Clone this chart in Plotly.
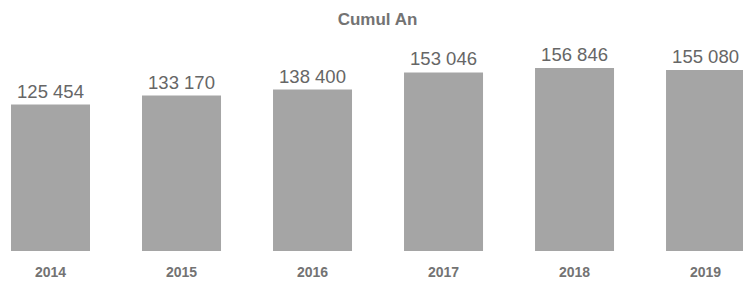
import plotly.graph_objects as go

years = ["2014", "2015", "2016", "2017", "2018", "2019"]
values = [125454, 133170, 138400, 153046, 156846, 155080]
labels = ["125 454", "133 170", "138 400", "153 046", "156 846", "155 080"]

font_family = "Liberation Sans, Arial, sans-serif"
label_color = "#666666"
bold_color = "#737373"

W, H = 743, 282

fig = go.Figure(go.Bar(
    x=list(range(len(years))),
    y=values,
    text=labels,
    textposition="outside",
    textfont=dict(size=18.5, color=label_color, family=font_family),
    marker=dict(color="#A5A5A5", line=dict(width=0)),
    width=0.603,
    cliponaxis=False,
    hoverinfo="skip",
))

fig.update_layout(
    width=W, height=H,
    margin=dict(l=0, r=0, t=40, b=31),
    plot_bgcolor="white", paper_bgcolor="white",
    showlegend=False,
    title=dict(text="<b>Cumul An</b>", x=377.5 / W, xanchor="center", y=1 - 19 / H, yanchor="middle",
               font=dict(size=17, color=bold_color, family=font_family)),
    xaxis=dict(range=[-0.3855, 5.286], tickmode="array", tickvals=list(range(len(years))),
               ticktext=["<b>%s</b>" % y for y in years], showgrid=False, zeroline=False,
               showline=False, ticks="", ticklabelstandoff=11,
               tickfont=dict(size=14, color=bold_color, family=font_family)),
    yaxis=dict(range=[0, 180840], visible=False, showgrid=False, zeroline=False),
)

fig.write_html(
    "out.html",
    config={"displayModeBar": False, "staticPlot": True},
    post_script="document.body.style.margin='0';document.documentElement.style.overflow='hidden';",
)
